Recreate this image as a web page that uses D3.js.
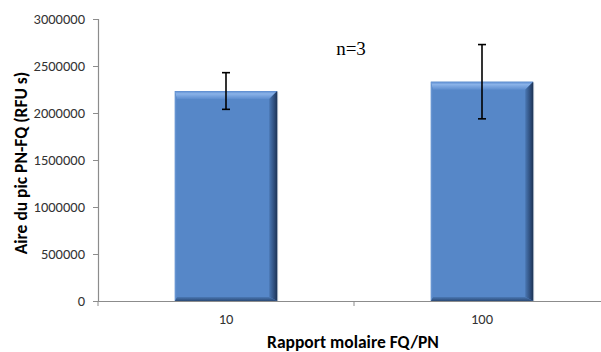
<!DOCTYPE html>
<html><head><meta charset="utf-8">
<script src="https://cdn.jsdelivr.net/npm/d3@7"></script>
<style>body{margin:0;background:#fff}svg{display:block}</style>
</head><body>
<script>
const categories = ["10", "100"];
const values = [2234000, 2333000];
const errors = [195000, 395000];
const yTicks = [0, 500000, 1000000, 1500000, 2000000, 2500000, 3000000];
const yTitle = "Aire du pic PN-FQ (RFU s)";
const xTitle = "Rapport molaire FQ/PN";
const note = "n=3";

const W = 601, H = 352;
const m = {left: 98, right: -9, top: 19, bottom: 51};
const svg = d3.select("body").append("svg").attr("width", W).attr("height", H);
const sans = "Carlito, Lato, 'Liberation Sans', sans-serif";

const x = d3.scaleBand().domain(categories).range([m.left, W - m.right]).paddingInner(0.6).paddingOuter(0.3);
const y = d3.scaleLinear().domain([0, 3000000]).range([H - m.bottom, m.top]);

const defs = svg.append("defs");
const gTop = defs.append("linearGradient").attr("id","gTop").attr("x1",0).attr("y1",0).attr("x2",0).attr("y2",1);
gTop.append("stop").attr("offset",0).attr("stop-color","#5a8ace");
gTop.append("stop").attr("offset",0.35).attr("stop-color","#8ab2e8");
gTop.append("stop").attr("offset",1).attr("stop-color","#5d8dcf");
const gRight = defs.append("linearGradient").attr("id","gRight").attr("x1",0).attr("y1",0).attr("x2",1).attr("y2",0);
gRight.append("stop").attr("offset",0).attr("stop-color","#4a77b3");
gRight.append("stop").attr("offset",0.6).attr("stop-color","#2f4f7e");
gRight.append("stop").attr("offset",1).attr("stop-color","#1d3354");
const gBot = defs.append("linearGradient").attr("id","gBot").attr("x1",0).attr("y1",0).attr("x2",0).attr("y2",1);
gBot.append("stop").attr("offset",0).attr("stop-color","#4a78b4");
gBot.append("stop").attr("offset",1).attr("stop-color","#2b4a76");
const gLeft = defs.append("linearGradient").attr("id","gLeft").attr("x1",0).attr("y1",0).attr("x2",1).attr("y2",0);
gLeft.append("stop").attr("offset",0).attr("stop-color","#6f9bd6");
gLeft.append("stop").attr("offset",1).attr("stop-color","#5687c8");

// axes
const axisColor = "#8c8c8c";
const yAxis = svg.append("g").attr("transform", `translate(${m.left},0)`)
  .call(d3.axisLeft(y).tickValues(yTicks).tickFormat(d3.format("d")).tickSize(5).tickPadding(8));
yAxis.select(".domain").attr("stroke", axisColor).attr("stroke-width",1.2);
yAxis.selectAll(".tick line").attr("stroke", axisColor);
yAxis.selectAll("text").attr("font-family", sans).attr("font-size",14.5).attr("fill","#333");

// bars
const bw = x.bandwidth();
const bars = svg.append("g").selectAll("g").data(categories).join("g");
bars.each(function(c, i) {
  const g = d3.select(this);
  const x0 = x(c), x1 = x(c) + bw, y0 = y(values[i]), y1 = y(0);
  const t = 8, r = 8, b = 4, l = 2;
  g.append("rect").attr("x", x0+1).attr("y", y0+1).attr("width", bw).attr("height", y1-y0).attr("fill","#999").attr("opacity",0.35);
  g.append("rect").attr("x", x0).attr("y", y0).attr("width", bw).attr("height", y1-y0).attr("fill","#5687c8");
  g.append("polygon").attr("points", [[x0,y0],[x1,y0],[x1-r,y0+t],[x0+l,y0+t]].join(" ")).attr("fill","url(#gTop)");
  g.append("polygon").attr("points", [[x1,y0],[x1,y1],[x1-r,y1-b],[x1-r,y0+t]].join(" ")).attr("fill","url(#gRight)");
  g.append("polygon").attr("points", [[x0,y1],[x1,y1],[x1-r,y1-b],[x0+l,y1-b]].join(" ")).attr("fill","url(#gBot)");
  g.append("polygon").attr("points", [[x0,y0],[x0+l,y0+t],[x0+l,y1-b],[x0,y1]].join(" ")).attr("fill","url(#gLeft)");
});

// x axis
const xAxis = svg.append("g").attr("transform", `translate(0,${y(0)})`)
  .call(d3.axisBottom(x).tickSize(0).tickPadding(13));
xAxis.select(".domain").attr("stroke", axisColor).attr("stroke-width",1.2);
xAxis.selectAll("text").attr("font-family", sans).attr("font-size",14.5).attr("fill","#333");
// category boundary tick marks
const bounds = [x.range()[0], (x(categories[0]) + bw + x(categories[1])) / 2];
svg.append("g").selectAll("line").data(bounds).join("line")
  .attr("x1", d => d).attr("x2", d => d).attr("y1", y(0)).attr("y2", y(0)+5)
  .attr("stroke", axisColor);

// error bars
const eb = svg.append("g").attr("stroke","#000").attr("stroke-width",1.6);
categories.forEach((c, i) => {
  const cx = x(c) + bw/2;
  eb.append("line").attr("x1",cx).attr("x2",cx).attr("y1",y(values[i]+errors[i])).attr("y2",y(values[i]-errors[i]));
  [values[i]+errors[i], values[i]-errors[i]].forEach(v =>
    eb.append("line").attr("x1",cx-4).attr("x2",cx+4).attr("y1",y(v)).attr("y2",y(v)));
});

// titles
svg.append("text").attr("transform", `translate(27,163) rotate(-90)`)
  .attr("text-anchor","middle").attr("font-family", sans)
  .attr("font-weight","bold").attr("font-size",17.5).attr("fill","#000").text(yTitle);
svg.append("text").attr("x", 353).attr("y", 348).attr("text-anchor","middle")
  .attr("font-family", sans)
  .attr("font-weight","bold").attr("font-size",17.5).attr("fill","#000").text(xTitle);
svg.append("text").attr("x", 351).attr("y", 55).attr("text-anchor","middle")
  .attr("font-family","'Liberation Serif', 'DejaVu Serif', serif").attr("font-size",19).attr("fill","#000").text(note);
</script>
</body></html>
